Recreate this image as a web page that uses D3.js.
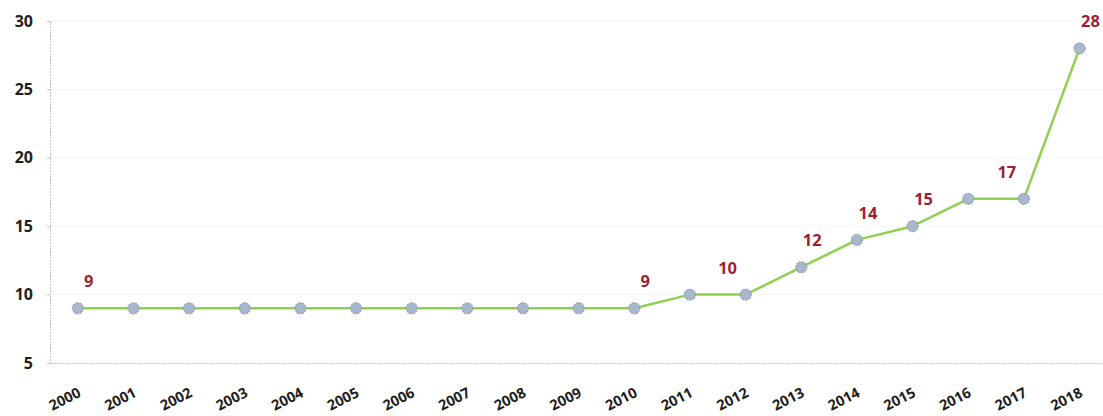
<!DOCTYPE html>
<html>
<head>
<meta charset="utf-8">
<script src="https://cdn.jsdelivr.net/npm/d3@7"></script>
<style>
  html, body { margin: 0; padding: 0; background: #fff; }
  svg { display: block; }
</style>
</head>
<body>
<svg id="chart" width="1103" height="416"></svg>
<script>
// ---- data ----
const years = ["2000","2001","2002","2003","2004","2005","2006","2007","2008","2009",
               "2010","2011","2012","2013","2014","2015","2016","2017","2018"];
const values = [9, 9, 9, 9, 9, 9, 9, 9, 9, 9, 9, 10, 10, 12, 14, 15, 17, 17, 28];
const yTicks = [5, 10, 15, 20, 25, 30];
const labelYears = ["2000", "2010", "2012", "2013", "2014", "2015", "2017", "2018"];

// ---- layout (not data) ----
const W = 1103, H = 416;
const margin = { left: 50, top: 21, bottom: 53 };
const step = 55.65;
const labelDx = { "2012": -18, "2017": -17 }; // nudges for labels on flat segments
const defaultLabelDx = 11;

const svg = d3.select("#chart");

const x = d3.scaleBand()
  .domain(years)
  .range([margin.left, margin.left + step * years.length])
  .paddingInner(0).paddingOuter(0);

const y = d3.scaleLinear()
  .domain([5, 30])
  .range([H - margin.bottom, margin.top]);

// faint gridlines
svg.append("g")
  .selectAll("line")
  .data(yTicks.filter(d => d > 5))
  .join("line")
  .attr("x1", margin.left).attr("x2", W)
  .attr("y1", d => y(d)).attr("y2", d => y(d))
  .attr("stroke", "#f3f3f3").attr("stroke-width", 1);

// y axis
const yAxis = svg.append("g")
  .attr("transform", `translate(${margin.left},0)`)
  .call(d3.axisLeft(y).tickValues(yTicks).tickSize(3).tickPadding(14));
yAxis.select(".domain").attr("stroke", "#c4c4c4").attr("stroke-dasharray", "2,1");
yAxis.selectAll(".tick line").attr("stroke", "#c4c4c4");
yAxis.selectAll("text")
  .attr("font-family", "'Open Sans', 'DejaVu Sans', sans-serif")
  .attr("font-weight", "700")
  .attr("font-size", "16px")
  .attr("fill", "#1e1e1e");

// x axis
const xAxis = svg.append("g")
  .attr("transform", `translate(0,${y(5)})`)
  .call(d3.axisBottom(x).tickSize(0).tickPadding(0));
xAxis.select(".domain").attr("stroke", "#c4c4c4").attr("stroke-dasharray", "2,1");
xAxis.selectAll("text")
  .attr("font-family", "'Open Sans', 'DejaVu Sans', sans-serif")
  .attr("font-weight", "700")
  .attr("font-size", "14.5px")
  .attr("fill", "#1e1e1e")
  .attr("text-anchor", "end")
  .attr("dy", 0)
  .attr("transform", "translate(4,33) rotate(-27)");

// line
const line = d3.line()
  .x((d, i) => x(years[i]) + x.bandwidth() / 2)
  .y(d => y(d));

svg.append("path")
  .datum(values)
  .attr("d", line)
  .attr("fill", "none")
  .attr("stroke", "#8fd14f")
  .attr("stroke-width", 2.5)
  .attr("stroke-linejoin", "round");

// markers
svg.append("g")
  .selectAll("circle")
  .data(values)
  .join("circle")
  .attr("cx", (d, i) => x(years[i]) + x.bandwidth() / 2)
  .attr("cy", d => y(d))
  .attr("r", 5.5)
  .attr("fill", "#a9b7cd")
  .attr("stroke", "#8e9bb0")
  .attr("stroke-width", 1.2)
  .attr("stroke-dasharray", "1.5,1");

// data labels
svg.append("g")
  .selectAll("text")
  .data(labelYears)
  .join("text")
  .attr("x", d => x(d) + x.bandwidth() / 2 + (labelDx[d] !== undefined ? labelDx[d] : defaultLabelDx))
  .attr("y", d => y(values[years.indexOf(d)]) - 21)
  .attr("text-anchor", "middle")
  .attr("font-family", "'Open Sans', 'DejaVu Sans', sans-serif")
  .attr("font-weight", "700")
  .attr("font-size", "16.5px")
  .attr("fill", "#9d1f37")
  .text(d => values[years.indexOf(d)]);
</script>
</body>
</html>
